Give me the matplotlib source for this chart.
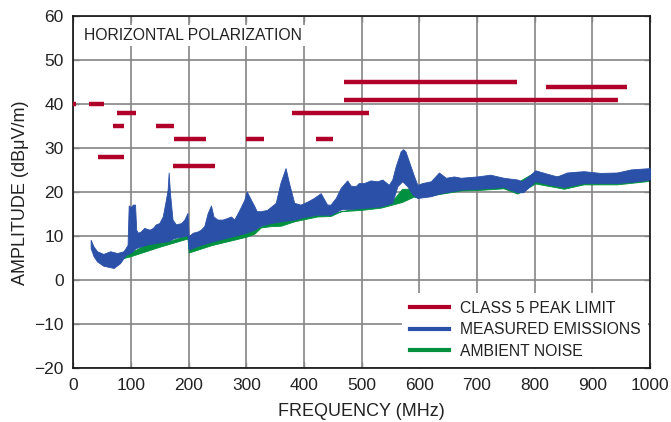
#!/usr/bin/env python3
"""
Radiated emissions, horizontal polarization: CISPR class 5 peak limit vs measured and ambient
"""

import numpy as np
import matplotlib
matplotlib.use('Agg')
import matplotlib.pyplot as plt
from matplotlib.lines import Line2D

# class 5 peak limit segments: (start MHz, stop MHz, level dBuV/m)
limit_start = [0, 28, 68, 76, 42, 143, 174, 172, 300, 380, 421, 470, 469, 820]
limit_stop = [4, 54, 87, 108, 88, 175, 230, 245, 330, 512, 450, 770, 944, 960]
limit_level = [40, 40, 35, 38, 28, 35, 32, 26, 32, 38, 32, 45, 41, 44]

# measured emissions envelope
meas_f_hi = [30, 35, 41, 52, 64, 76, 87, 94, 96, 100, 103, 107, 109, 112, 117, 123, 132,
             138, 143, 149, 155, 159.5, 163.5, 165.3, 167.6, 172, 178, 187, 192.5, 198,
             200, 207, 215.6, 221, 227, 233, 238.7, 243, 250, 259, 267.6, 273.4, 279, 288,
             296.5, 300.6, 308, 314, 318, 325, 336, 351, 359, 368, 374, 383, 394, 406, 417,
             429, 440, 446, 455, 463.6, 475, 481, 489.6, 495, 504, 515.6, 527, 536, 547,
             553, 559, 567.6, 572, 576, 582, 591, 596.5, 605, 620, 634, 646, 660, 672,
             700, 723, 746, 770, 778, 793, 801, 822, 839, 856, 885, 914, 943, 967, 1000]
meas_hi = [9.2, 7.7, 6.6, 6.0, 6.6, 6.2, 6.6, 8.0, 17.0, 16.6, 17.2, 17.2, 11.5, 10.8, 11.1,
           11.9, 11.5, 11.9, 12.7, 13.0, 14.5, 17.6, 20.6, 24.5, 19.8, 13.8, 12.7, 13.0,
           13.8, 15.3, 10.0, 10.8, 11.1, 11.5, 12.3, 15.3, 17.0, 14.5, 13.8, 13.8, 14.2,
           14.5, 13.8, 16.0, 18.3, 20.2, 18.3, 16.8, 15.7, 15.7, 16.0, 17.6, 22.1, 25.5,
           22.1, 17.6, 17.2, 17.9, 18.7, 19.8, 17.2, 17.2, 18.7, 21.0, 22.7, 21.5, 21.4,
           22.1, 22.1, 22.7, 22.5, 22.9, 21.7, 22.9, 25.9, 29.3, 29.8, 29.3, 27.0, 23.6,
           21.7, 22.1, 22.5, 24.5, 23.3, 23.6, 23.3, 23.6, 24.0, 23.3, 22.9, 22.5, 24.0,
           25.0, 24.2, 23.6, 24.5, 24.8, 24.4, 24.5, 25.2, 25.5]
meas_f_lo = [30, 35, 41, 52, 70, 81, 91, 100, 108, 130, 149, 164, 175, 198, 200, 215, 240,
             270, 300, 314, 325, 342, 360, 383, 400, 423, 446, 464, 500, 533, 553, 562,
             570.5, 579, 588, 596.5, 620, 637, 672, 700, 746, 770, 780, 801, 827, 851,
             885, 943, 978, 1000]
meas_lo = [7.3, 5.5, 4.3, 3.3, 2.8, 3.9, 5.8, 6.3, 7.3, 8.2, 8.6, 8.9, 9.6, 10.2, 7.0, 7.8,
           8.8, 9.8, 10.8, 11.5, 12.4, 13.0, 13.4, 13.8, 14.4, 14.9, 14.9, 16.1, 16.4,
           16.8, 17.6, 21.4, 22.5, 21.4, 19.5, 18.7, 19.1, 19.8, 20.6, 20.8, 21.2, 20.0,
           20.0, 22.5, 21.7, 21.2, 22.1, 22.1, 22.5, 22.9]

# ambient noise envelope
amb_f_hi = [80, 100, 130, 149, 160, 164.5, 168, 198, 200, 240, 272, 295, 301, 306, 318, 340,
            360, 368, 374, 383, 400, 446, 500, 533, 553, 562, 570, 582, 588, 592, 620, 640,
            672, 700, 746, 770, 795, 830, 875, 920, 975, 1000]
amb_hi = [5.2, 6.4, 8.4, 8.8, 9.0, 9.8, 9.0, 10.3, 7.3, 9.0, 10.0, 11.0, 11.8, 11.2, 11.8,
          13.2, 13.6, 15.7, 13.6, 14.0, 14.6, 15.2, 16.6, 17.0, 18.0, 19.5, 20.8, 20.8,
          20.2, 19.0, 19.4, 21.0, 21.4, 23.0, 23.0, 22.3, 24.2, 23.4, 24.6, 24.0, 25.0,
          25.0]
amb_f_lo = [80, 100, 149, 198, 200, 240, 300, 314, 325, 342, 360, 383, 423, 446, 464, 500,
            533, 553, 570, 590, 625, 672, 700, 746, 770, 801, 851, 885, 943, 1000]
amb_lo = [4.8, 5.5, 7.6, 9.5, 6.3, 8.0, 9.9, 10.6, 12.0, 12.3, 12.4, 13.4, 14.5, 14.6, 15.7,
          16.0, 16.5, 17.2, 17.8, 19.0, 19.4, 20.4, 20.5, 20.9, 19.7, 22.0, 20.8, 21.8,
          21.8, 22.6]

x_ticks = [0, 100, 200, 300, 400, 500, 600, 700, 800, 900, 1000]
y_ticks = [-20, -10, 0, 10, 20, 30, 40, 50, 60]

RED = '#b0002a'
BLUE = '#2a50a8'
GREEN = '#00903f'
TXT = '#222222'

plt.rcParams['font.family'] = ['Liberation Sans', 'DejaVu Sans']


def band(ax, f_hi, hi, f_lo, lo, color, z):
    """fill between an upper and a lower envelope read at different frequencies"""
    f = np.union1d(f_hi, f_lo)
    top = np.interp(f, f_hi, hi)
    bot = np.interp(f, f_lo, lo)
    m = f >= max(f_hi[0], f_lo[0])
    ax.fill_between(f[m], bot[m], top[m], color=color, lw=0.6, zorder=z)


fig = plt.figure(figsize=(6.71, 4.22), dpi=100)
ax = fig.add_axes([0.1093, 0.1273, 0.8594, 0.8341])

band(ax, amb_f_hi, amb_hi, amb_f_lo, amb_lo, GREEN, 2)
band(ax, meas_f_hi, meas_hi, meas_f_lo, meas_lo, BLUE, 3)

ax.hlines(limit_level, limit_start, limit_stop, colors=RED, lw=3.2, zorder=4)

ax.set_xlim(0, 1000)
ax.set_ylim(-20, 60)
ax.set_xticks(x_ticks)
ax.set_yticks(y_ticks)
ax.grid(True, color='#858585', lw=1.2, zorder=0)
ax.set_axisbelow(True)
ax.tick_params(direction='in', length=4, width=1, color='#858585', top=True, right=True,
               labelsize=12.5, labelcolor=TXT, pad=7)
for s in ax.spines.values():
    s.set_linewidth(1.2)
    s.set_color('#111111')

ax.set_xlabel('FREQUENCY (MHz)', fontsize=13, labelpad=7, color=TXT)
ax.set_ylabel('AMPLITUDE (dBμV/m)', fontsize=13, labelpad=4, color=TXT)

ax.text(0.0186, 0.966, 'HORIZONTAL POLARIZATION', transform=ax.transAxes, ha='left', va='top',
        fontsize=11.3, color=TXT, zorder=6,
        bbox=dict(facecolor='white', edgecolor='none', pad=2))

handles = [Line2D([], [], color=RED, lw=3),
           Line2D([], [], color=BLUE, lw=3),
           Line2D([], [], color=GREEN, lw=3)]
labels = ['CLASS 5 PEAK LIMIT', 'MEASURED EMISSIONS', 'AMBIENT NOISE']
leg = ax.legend(handles, labels, loc='lower right', borderaxespad=0.1, frameon=True,
                fancybox=False, framealpha=1, edgecolor='none', handlelength=2.5,
                handletextpad=0.7, labelspacing=0.42, fontsize=11.3, borderpad=0.5)
leg.set_zorder(7)
for t in leg.get_texts():
    t.set_color(TXT)

plt.savefig('out.png', dpi=100)
